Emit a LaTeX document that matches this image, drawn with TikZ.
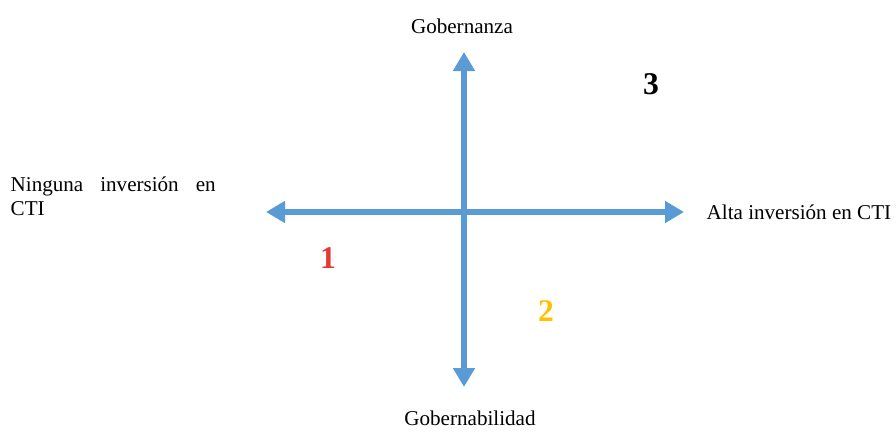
\documentclass[tikz,border=0pt]{standalone}
\usepackage{fontspec}
\setmainfont{Liberation Serif}
\usetikzlibrary{arrows.meta,positioning}
\definecolor{axisblue}{HTML}{5B9BD5}
\definecolor{zonered}{HTML}{E53935}
\definecolor{zoneorange}{HTML}{FFC000}
\begin{document}
\begin{tikzpicture}[thick, axis/.style = {draw=axisblue, line width=3.2pt, {Triangle[width=0.42cm,length=0.38cm]}-{Triangle[width=0.42cm,length=0.38cm]}}, main/.style = {draw=none, font=\fontsize{12}{13.5}\selectfont, inner sep=0pt}, zone/.style = {font=\fontsize{18}{20}\selectfont\bfseries, inner sep=0pt}]
            \useasboundingbox (0,0) rectangle (17.92,8.62);
            \coordinate (c) at (9.28,4.38);
            \coordinate (t) at (9.28,7.58);
            \coordinate (b) at (9.28,0.88);
            \coordinate (l) at (5.32,4.38);
            \coordinate (r) at (13.68,4.38);
            
            \draw[axis] (b) to (t);
            \draw[axis] (l) to (r);
            
            \node[main] (gov) [above=0.36cm of t, xshift=-0.04cm] {Gobernanza};
            \node[main] (govb) [below=0.46cm of b, xshift=0.12cm] {Gobernabilidad};
            \node[main] (alta) [right=0.44cm of r]   {Alta inversión en CTI};
            \node[main, anchor=north west, text width=4.1cm, align=justify] (ning) at (0.2,5.1) {Ninguna inversión en CTI};
            
            \node[zone] (z1) at (6.56,3.46) [text=zonered]    {1};
            \node[zone] (z2) at (10.92,2.4) [text=zoneorange] {2};
            \node[zone] (z3) at (13.02,6.94)                  {3};
        \end{tikzpicture}
\end{document}
